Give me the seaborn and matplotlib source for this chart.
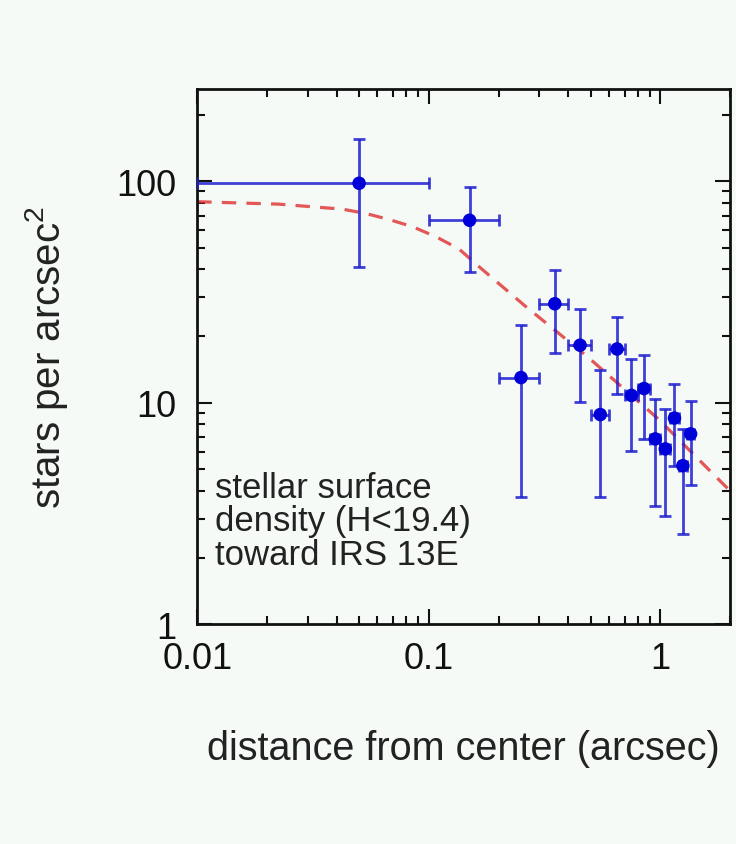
import numpy as np
import pandas as pd
import seaborn as sns
import matplotlib.pyplot as plt
from matplotlib.ticker import LogLocator, FuncFormatter, NullFormatter

# radial bins (arcsec) and surface density values
r_center = [0.05, 0.15, 0.25, 0.35, 0.45, 0.55, 0.65, 0.75, 0.85, 0.95, 1.05, 1.15, 1.25, 1.35]
r_low = [0.01, 0.1, 0.2, 0.3, 0.4, 0.5, 0.6, 0.7, 0.8, 0.9, 1.0, 1.1, 1.2, 1.3]
r_high = [0.1, 0.2, 0.3, 0.4, 0.5, 0.6, 0.7, 0.8, 0.9, 1.0, 1.1, 1.2, 1.3, 1.4]
density = [98, 66.7, 13.0, 28.0, 18.2, 8.85, 17.5, 10.8, 11.6, 6.87, 6.19, 8.53, 5.2, 7.24]
dens_low = [41, 39, 3.77, 16.7, 10.1, 3.76, 11.0, 6.04, 6.87, 3.43, 3.07, 5.2, 2.55, 4.27]
dens_high = [155, 94, 22.4, 39.7, 26.4, 14.0, 24.4, 15.8, 16.4, 10.4, 9.33, 12.2, 7.63, 10.2]

# dashed model curve
model_r = [0.01, 0.0224, 0.0423, 0.0534, 0.0671, 0.085, 0.107, 0.135, 0.162, 0.259, 0.486, 0.977, 2.0]
model_y = [80.9, 78.9, 74.9, 71.6, 67.3, 62.4, 56.3, 49.5, 41.8, 27.5, 16.1, 8.47, 4.0]

bg = '#f5faf7'
sns.set_theme(style='ticks')
plt.rcParams['font.family'] = ['Liberation Sans', 'DejaVu Sans']
plt.rcParams['mathtext.fontset'] = 'custom'
plt.rcParams['mathtext.rm'] = 'Liberation Sans'
plt.rcParams['mathtext.it'] = 'Liberation Sans'

df = pd.DataFrame({'r': r_center, 'n': density})
model = pd.DataFrame({'r': model_r, 'n': model_y})

fig = plt.figure(figsize=(7.36, 8.45), dpi=100, facecolor=bg)
ax = fig.add_axes([0.268, 0.260, 0.724, 0.633], facecolor=bg)

blue = '#1f1fd0'
xerr = [np.array(r_center) - np.array(r_low), np.array(r_high) - np.array(r_center)]
yerr = [np.array(density) - np.array(dens_low), np.array(dens_high) - np.array(density)]
ax.errorbar(r_center, density, xerr=xerr, yerr=yerr, fmt='none', ecolor=blue,
            elinewidth=2.0, capsize=4.5, capthick=2.0, alpha=0.85, zorder=3)
sns.scatterplot(data=df, x='r', y='n', ax=ax, color='#0000d8', s=95,
                edgecolor='none', zorder=4)
sns.lineplot(data=model, x='r', y='n', ax=ax, color='#e03a3a', lw=2.3,
             alpha=0.85, zorder=2)
ax.lines[-1].set_linestyle((0, (4.5, 3.2)))

ax.set_xscale('log')
ax.set_yscale('log')
ax.set_xlim(0.01, 2.0)
ax.set_ylim(1, 260)

fmt = FuncFormatter(lambda v, p: '%g' % v)
ax.xaxis.set_major_locator(LogLocator(base=10))
ax.yaxis.set_major_locator(LogLocator(base=10))
ax.xaxis.set_major_formatter(fmt)
ax.yaxis.set_major_formatter(fmt)
ax.xaxis.set_minor_locator(LogLocator(base=10, subs=np.arange(2, 10)))
ax.yaxis.set_minor_locator(LogLocator(base=10, subs=np.arange(2, 10)))
ax.xaxis.set_minor_formatter(NullFormatter())
ax.yaxis.set_minor_formatter(NullFormatter())

ax.tick_params(which='both', direction='in', top=True, right=True, width=1.5,
               colors='#111111', labelsize=26)
ax.tick_params(axis='x', which='major', pad=12)
ax.tick_params(axis='y', which='major', pad=15)
ax.tick_params(which='major', length=11)
ax.tick_params(which='minor', length=6)
for s in ax.spines.values():
    s.set_linewidth(2.0)
    s.set_color('#111111')

ax.set_xlabel('distance from center (arcsec)', fontsize=28.5, color='#222222', labelpad=38)
ax.set_ylabel('stars per arcsec$^2$', fontsize=29, color='#222222', labelpad=33)

ax.text(0.034, 0.287, 'stellar surface\ndensity (H<19.4)\ntoward IRS 13E',
        transform=ax.transAxes, ha='left', va='top', fontsize=25,
        color='#222222', linespacing=1.02)

fig.savefig('out.png', dpi=100, facecolor=bg)
